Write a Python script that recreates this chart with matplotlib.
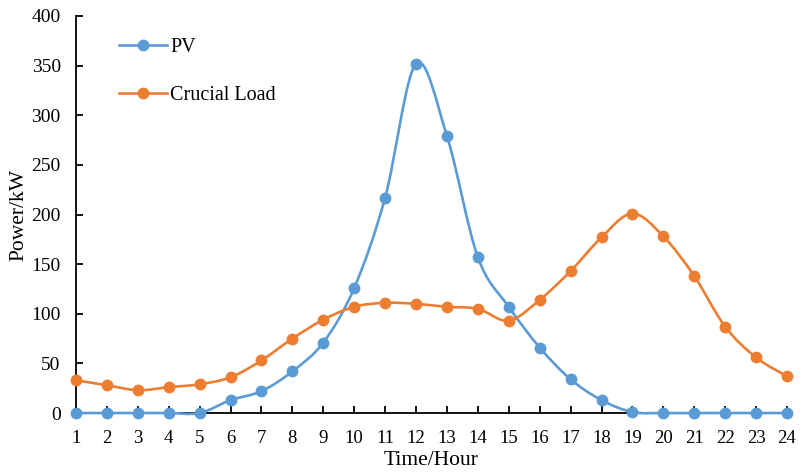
import numpy as np
import matplotlib
matplotlib.use("Agg")
import matplotlib.pyplot as plt
from matplotlib.path import Path
from matplotlib.patches import PathPatch
from matplotlib.lines import Line2D

plt.rcParams['font.family'] = ['Liberation Serif', 'DejaVu Serif']

horas = list(range(1, 25))
pv = [0, 0, 0, 0, 0, 13, 22, 42, 71, 126, 217, 352, 279, 157, 107, 66, 34, 13, 1, 0, 0, 0, 0, 0]
carga = [33, 28, 23, 26, 29, 36, 53, 75, 94, 107, 111, 110, 107, 105, 93, 114, 143, 177, 201, 178, 138, 87, 56, 37]

cor_pv = '#5B9BD5'
cor_carga = '#ED7D31'


def curva_suave(x, y):
    # curva suavizada estilo Excel (Bezier cubico tipo Catmull-Rom)
    pts = np.column_stack([x, y]).astype(float)
    n = len(pts)
    verts = [pts[0]]
    codes = [Path.MOVETO]
    for i in range(n - 1):
        p0 = pts[i - 1] if i > 0 else pts[i]
        p1 = pts[i]
        p2 = pts[i + 1]
        p3 = pts[i + 2] if i + 2 < n else pts[i + 1]
        c1 = p1 + (p2 - p0) / 6.0
        c2 = p2 - (p3 - p1) / 6.0
        verts += [c1, c2, p2]
        codes += [Path.CURVE4] * 3
    return Path(verts, codes)


fig = plt.figure(figsize=(8.06, 4.73), dpi=100)
ax = fig.add_axes([0.0943, 0.1268, 0.8821, 0.8394])
ax.set_xlim(1, 24)
ax.set_ylim(0, 400)

for y, cor in [(pv, cor_pv), (carga, cor_carga)]:
    patch = PathPatch(curva_suave(horas, y), facecolor='none', edgecolor=cor,
                      linewidth=1.9, clip_on=False, zorder=3)
    ax.add_patch(patch)
    ax.plot(horas, y, linestyle='none', marker='o', markersize=7.5,
            color=cor, clip_on=False, zorder=4)

ax.set_xticks(horas)
ax.set_yticks(range(0, 401, 50))

for s in ['top', 'right']:
    ax.spines[s].set_visible(False)
for s in ['left', 'bottom']:
    ax.spines[s].set_linewidth(1.3)
    ax.spines[s].set_zorder(2)

ax.tick_params(axis='x', direction='in', length=5, width=1.3, labelsize=13.5, pad=12)
ax.tick_params(axis='y', direction='in', length=5, width=1.3, labelsize=14, pad=11)

ax.set_xlabel('Time/Hour', fontsize=15.5, labelpad=3)
ax.set_ylabel('Power/kW', fontsize=15.5, labelpad=2)

handles = [
    Line2D([], [], color=cor_pv, linewidth=1.9, marker='o', markersize=7.5),
    Line2D([], [], color=cor_carga, linewidth=1.9, marker='o', markersize=7.5),
]
ax.legend(handles, ['PV', 'Crucial Load'], loc='upper left', bbox_to_anchor=(0.035, 0.99),
          frameon=False, fontsize=14.5, labelspacing=1.45, handlelength=2.4, handletextpad=0.15)

fig.savefig('out.png', dpi=100)
